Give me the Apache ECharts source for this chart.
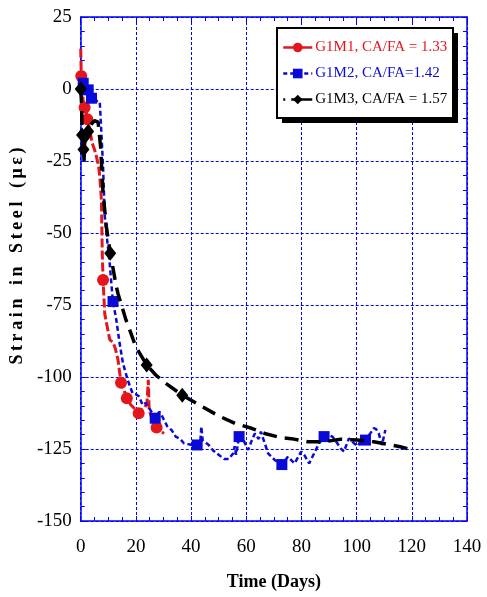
<!DOCTYPE html>
<html>
<head>
<meta charset="utf-8">
<script src="https://cdn.jsdelivr.net/npm/echarts@6/dist/echarts.min.js"></script>
<style>
html,body{margin:0;padding:0;background:#fff;}
#chart{width:487px;height:597px;}
</style>
</head>
<body>
<div id="chart"></div>
<script>
// ---- Data ----
const seriesNames = ['G1M1, CA/FA = 1.33', 'G1M2, CA/FA=1.42', 'G1M3, CA/FA = 1.57'];

const g1m1Days   = [0, 0.2, 0.5, 1.0, 1.4, 2.0, 2.4, 3.0, 4.2, 5.0, 5.7, 6.5, 6.9, 7.5, 7.8, 8.1, 8.7, 9.5, 10.5, 11.7, 12.5, 13.5, 14.6, 15.5, 16.7, 18.2, 20, 21, 22, 23, 24, 24.5, 24.8, 26, 27.5, 28.5, 30.2];
const g1m1Strain = [14, 4.5, 0, -5, -6.4, -8, -10.5, -13, -18.9, -21, -23.5, -27, -30.4, -38.5, -57, -66.3, -78, -82, -87, -88, -90, -94, -102, -104, -107.4, -109.7, -111.5, -112.6, -111.5, -110.9, -109, -101, -111.5, -115, -117.5, -118.5, -119.6];
const g1m1MarkerIdx = [1, 4, 6, 15, 22, 24, 27, 34];

const g1m2Days   = [0, 0.9, 1.8, 2.7, 3.3, 3.9, 5, 6.9, 7.5, 8.1, 8.7, 9.3, 10.5, 11.4, 11.7, 12.9, 14.1, 15.3, 17, 18.8, 20, 21.2, 22.4, 23.5, 24.8, 27, 28.5, 29.6, 31.4, 33, 34.4, 36, 37.4, 40, 42.2, 43.3, 43.7, 44.2, 46.4, 48, 50, 52, 53.6, 55.3, 55.8, 56.3, 57.4, 58.3, 59.5, 60.7, 62, 63.1, 64.5, 65.3, 66.1, 67.9, 70.3, 72.9, 75.1, 77.5, 79.9, 81, 82.8, 84.6, 86.4, 88.2, 89.5, 91.2, 93, 94.2, 95.4, 97.2, 98, 99, 100.5, 101.5, 103.2, 105, 106.2, 107, 108, 109.2, 110.4];
const g1m2Strain = [1, 2, 0, -0.3, -2, -3.2, -4, -4.4, -15.4, -27, -44, -50, -60.5, -71, -73.8, -80.2, -88.3, -95.2, -101, -105.7, -106, -106.8, -109.7, -109, -110.8, -114.3, -112, -113.8, -117.2, -118.5, -120.7, -121.5, -123, -123.5, -123.6, -123, -117.2, -122, -123.6, -125.5, -127, -128.5, -128.5, -126.5, -124, -127, -120.7, -120.1, -123, -125.3, -122, -119.6, -121.5, -119, -121.3, -126.5, -128.8, -130.4, -127.7, -130, -125.9, -127, -130, -126.5, -123, -120.7, -120, -120.7, -123, -124.8, -125.9, -121.3, -122, -123, -124, -122, -121.9, -119.5, -117.8, -118, -119.6, -123.6, -118.4];
const g1m2MarkerIdx = [1, 3, 5, 14, 25, 34, 46, 57, 65, 76];

const g1m3Days   = [0, 0.3, 0.5, 1.0, 1.2, 1.5, 2.0, 2.7, 4, 5, 5.7, 6.3, 7.2, 8.1, 9.3, 10.7, 12.9, 13.5, 16.4, 20, 23.9, 27.2, 30.8, 36.8, 44, 50, 55.9, 61.9, 66.7, 72.7, 76.3, 82.3, 88.2, 94.2, 100.2, 106.2, 115.8, 120];
const g1m3Strain = [0, -5, -16, -21, -25, -16.6, -15, -14.8, -12, -11, -10.8, -11.5, -20, -36.2, -47.8, -57, -68.6, -71, -80.2, -89.5, -95.8, -99.3, -102.2, -106.3, -110.3, -113.5, -116.1, -117.8, -119.6, -121.1, -121.4, -122.5, -122.5, -121.6, -121.9, -122.5, -124.2, -125.3];
const g1m3MarkerIdx = [0, 2, 3, 5, 7, 15, 20, 23];

const xMin = 0, xMax = 140, xStep = 20;
const yMin = -150, yMax = 25, yStep = 25;

// ---- Build chart ----
const FONT = 'Liberation Serif';
const BLUE_AX = '#0000ff';
const RED = '#e3161d', BLUE = '#0a0ad8', BLACK = '#000000';

function zip(xs, ys) { return xs.map((x, i) => [x, ys[i]]); }
function sizer(idx, size) {
  const s = new Set(idx);
  return (v, p) => s.has(p.dataIndex) ? size : 0;
}

const chart = echarts.init(document.getElementById('chart'), null, {renderer: 'canvas'});

const axisCommon = {
  axisLine: {show: true, onZero: false, lineStyle: {color: BLUE_AX, width: 1.5}},
  axisTick: {show: true, inside: true, length: 5, lineStyle: {color: BLUE_AX, width: 1}},
  minorTick: {show: true, splitNumber: 5, length: 4, lineStyle: {color: BLUE_AX, width: 1}},
};

const option = {
  backgroundColor: '#ffffff',
  animation: false,
  grid: {left: 77, right: 20, top: 17, bottom: 76, containLabel: false},
  graphic: [
    // legend frame: solid drop shadow + bordered box
    {type: 'rect', z: 10, shape: {x: 282, y: 33, width: 176, height: 90}, style: {fill: '#000'}},
    {type: 'rect', z: 10, shape: {x: 277, y: 28, width: 176, height: 90}, style: {fill: '#fff', stroke: '#000', lineWidth: 2}}
  ],
  legend: {
    orient: 'vertical',
    left: 282, top: 40, z: 20,
    itemWidth: 29, itemHeight: 12, itemGap: 11,
    padding: 0,
    textStyle: {fontFamily: FONT, fontSize: 15, padding: [0, 0, 0, -2]},
    data: [
      {name: seriesNames[0], textStyle: {color: RED}, lineStyle: {type: 'solid', width: 2.5}},
      {name: seriesNames[1], textStyle: {color: BLUE}, lineStyle: {type: [4, 3], width: 2.5}},
      {name: seriesNames[2], textStyle: {color: BLACK}, lineStyle: {type: [2, 6, 20, 0], width: 2.5}}
    ]
  },
  xAxis: [
    Object.assign({}, axisCommon, {
      type: 'value', min: xMin, max: xMax, interval: xStep, position: 'bottom',
      minorTick: {show: true, splitNumber: 4, length: 4, lineStyle: {color: BLUE_AX, width: 1}},
      splitLine: {show: true, lineStyle: {color: BLUE_AX, width: 1, type: [3, 2]}},
      axisLabel: {color: '#000', fontFamily: FONT, fontSize: 19, margin: 17},
      name: 'Time (Days)', nameLocation: 'middle', nameGap: 52,
      nameTextStyle: {color: '#000', fontFamily: FONT, fontSize: 18, fontWeight: 'bold'}
    }),
    Object.assign({}, axisCommon, {
      type: 'value', min: xMin, max: xMax, interval: xStep, position: 'top',
      minorTick: {show: true, splitNumber: 4, length: 4, lineStyle: {color: BLUE_AX, width: 1}},
      splitLine: {show: false}, axisLabel: {show: false}
    })
  ],
  yAxis: [
    Object.assign({}, axisCommon, {
      type: 'value', min: yMin, max: yMax, interval: yStep, position: 'left',
      splitLine: {show: true, lineStyle: {color: BLUE_AX, width: 1, type: [3, 2]}},
      axisLabel: {color: '#000', fontFamily: FONT, fontSize: 19, margin: 9},
      name: 'S\u2009t\u2009r\u2009a\u2009i\u2009n\u2002 i\u2009n\u2002 S\u2009t\u2009e\u2009e\u2009l\u2002 (\u2009\u03bc\u2009\u03b5\u2009)',
      nameLocation: 'middle', nameGap: 45,
      nameTextStyle: {color: '#000', fontFamily: FONT, fontSize: 18, fontWeight: 'bold', padding: [0, 0, 0, 26]}
    }),
    Object.assign({}, axisCommon, {
      type: 'value', min: yMin, max: yMax, interval: yStep, position: 'right',
      splitLine: {show: false}, axisLabel: {show: false}
    })
  ],
  series: [
    {
      name: seriesNames[0], type: 'line', data: zip(g1m1Days, g1m1Strain),
      xAxisIndex: 0, yAxisIndex: 0,
      color: RED, symbol: 'circle', symbolSize: sizer(g1m1MarkerIdx, 12),
      showSymbol: true, showAllSymbol: true,
      lineStyle: {color: RED, width: 3, type: [9, 3]},
      itemStyle: {color: RED}, z: 2
    },
    {
      name: seriesNames[1], type: 'line', data: zip(g1m2Days, g1m2Strain),
      xAxisIndex: 0, yAxisIndex: 0,
      color: BLUE, symbol: 'rect', symbolSize: sizer(g1m2MarkerIdx, 11),
      showSymbol: true, showAllSymbol: true,
      lineStyle: {color: BLUE, width: 2.5, type: [5, 3]},
      itemStyle: {color: BLUE}, z: 3
    },
    {
      name: seriesNames[2], type: 'line', data: zip(g1m3Days, g1m3Strain),
      xAxisIndex: 0, yAxisIndex: 0,
      color: BLACK, symbol: 'diamond', symbolSize: sizer(g1m3MarkerIdx, [12, 15]),
      showSymbol: true, showAllSymbol: true,
      lineStyle: {color: BLACK, width: 3.5, type: [14, 8]},
      itemStyle: {color: BLACK}, z: 4
    }
  ]
};

chart.setOption(option);
</script>
</body>
</html>
